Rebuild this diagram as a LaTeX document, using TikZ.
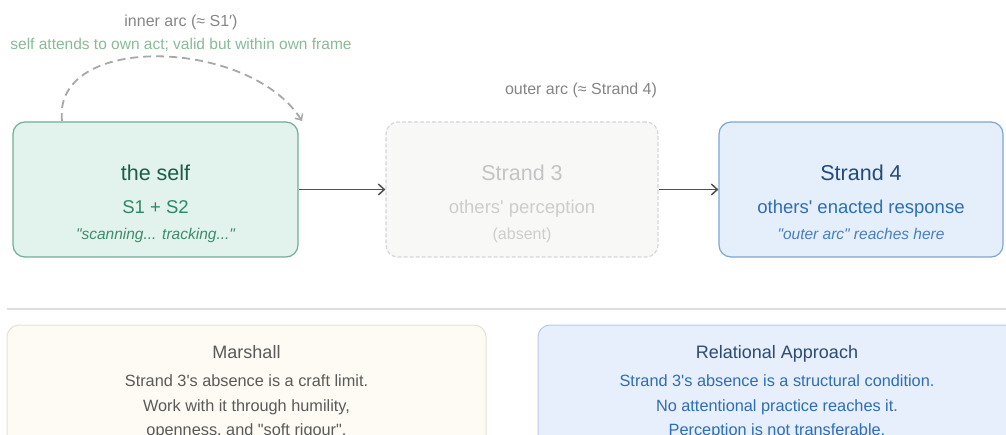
\documentclass[tikz,border=0pt]{standalone}
\usepackage{fontspec}
\setmainfont{Liberation Sans}
\usetikzlibrary{arrows.meta}
\definecolor{selffill}{HTML}{E1F3EC}
\definecolor{selfdraw}{HTML}{6FAE94}
\definecolor{selftitle}{HTML}{1F5C48}
\definecolor{selfsub}{HTML}{2E8766}
\definecolor{selfnote}{HTML}{3E8C6C}
\definecolor{absfill}{HTML}{F8F8F7}
\definecolor{absdraw}{HTML}{D6D6D6}
\definecolor{abstext}{HTML}{C4C4C4}
\definecolor{absnote}{HTML}{CDCDCD}
\definecolor{s4fill}{HTML}{E4EFFB}
\definecolor{s4draw}{HTML}{7CA6D4}
\definecolor{s4title}{HTML}{244B78}
\definecolor{s4sub}{HTML}{2F6DB5}
\definecolor{s4note}{HTML}{4A7DBE}
\definecolor{arrowgray}{HTML}{505050}
\definecolor{arcgray}{HTML}{A8A8A8}
\definecolor{labelgray}{HTML}{858585}
\definecolor{labelgreen}{HTML}{88BB94}
\definecolor{rulegray}{HTML}{DEDEDE}
\definecolor{marfill}{HTML}{FDFBF3}
\definecolor{mardraw}{HTML}{E6E2D4}
\definecolor{martext}{HTML}{5A5A5A}
\definecolor{relfill}{HTML}{E6EFFB}
\definecolor{reldraw}{HTML}{B7CCE8}
\definecolor{reltitle}{HTML}{2D4B70}
\definecolor{reltext}{HTML}{2F6DB5}
\newcommand{\dq}{\textquotedbl}
\newcommand{\sq}{\textquotesingle}
\tikzset{
  fs/.style={font=\fontsize{#1}{#1}\selectfont},
  stagebox/.style={rounded corners=12pt, line width=1.2pt, inner sep=0pt},
  notebox/.style={rounded corners=12pt, line width=1pt, inner sep=0pt},
  flow/.style={draw=arrowgray, line width=1.8pt, -{Straight Barb[length=6pt,width=11pt,line width=1.5pt]}},
  txt/.style={inner sep=0pt, anchor=base},
}
\begin{document}
\begin{tikzpicture}[x=1pt,y=-1pt]
\useasboundingbox (0,0) rectangle (1006,434);
\clip (0,0) rectangle (1006,434);

% stage boxes
\node[stagebox, draw=selfdraw, fill=selffill, minimum width=285pt, minimum height=135pt] (self) at (155.5,189.5) {};
\node[stagebox, draw=absdraw, fill=absfill, dashed, dash pattern=on 4pt off 2pt, minimum width=272pt, minimum height=135pt] (s3) at (522,189.5) {};
\node[stagebox, draw=s4draw, fill=s4fill, minimum width=284pt, minimum height=135pt] (s4) at (861,189.5) {};

% box texts
\node[txt, fs=21.5, text=selftitle] (selfT) at (155.5,180) {the self};
\node[txt, fs=18.5, text=selfsub] (selfS) at (155.5,213) {S1 + S2};
\node[txt, fs=15.5, text=selfnote] (selfN) at (155.5,239) {\itshape \dq scanning... tracking...\dq};

\node[txt, fs=21.5, text=abstext] (s3T) at (522,180) {Strand 3};
\node[txt, fs=18.5, text=absnote] (s3S) at (522,213) {others\sq{} perception};
\node[txt, fs=16, text=absnote] (s3N) at (522,239) {(absent)};

\node[txt, fs=21.5, text=s4title] (s4T) at (861,180) {Strand 4};
\node[txt, fs=18.5, text=s4sub] (s4S) at (861,213) {others\sq{} enacted response};
\node[txt, fs=15.5, text=s4note] (s4N) at (861,239) {\itshape \dq outer arc\dq{} reaches here};

% connectors
\draw[flow] (self.east) -- (s3.west);
\draw[flow] (s3.east) -- (s4.west);

% inner arc
\coordinate (arcA) at (62,121);
\coordinate (arcB) at (302,121);
\draw[arcgray, line width=1.8pt, dash pattern=on 8pt off 5pt,
  -{Straight Barb[length=5pt,width=9pt,line width=1.5pt]}]
  (arcA) .. controls (52,32) and (250,38) .. (arcB);
\node[txt, fs=16, text=labelgray] (innerL) at (181,26) {inner arc (≈ S1′)};
\node[txt, fs=15.5, text=labelgreen] (innerN) at (181,49) {self attends to own act; valid but within own frame};

\node[txt, fs=16, text=labelgray] (outerL) at (581,94) {outer arc (≈ Strand 4)};

% separator
\draw[rulegray, line width=2pt] (7,309) -- (1006,309);

% lower notes
\draw[notebox, draw=mardraw, fill=marfill] (7,325) rectangle (486,470);
\draw[notebox, draw=reldraw, fill=relfill] (538,325) rectangle (1030,470);

\node[txt, fs=18, text=martext] (marT) at (246.5,358) {Marshall};
\node[txt, fs=16.3, text=martext] (mar1) at (246.5,386) {Strand 3\sq s absence is a craft limit.};
\node[txt, fs=16.3, text=martext] (mar2) at (246.5,411) {Work with it through humility,};
\node[txt, fs=16.3, text=martext] (mar3) at (246.5,435) {openness, and \dq soft rigour\dq.};

\node[txt, fs=18, text=reltitle] (relT) at (777,358) {Relational Approach};
\node[txt, fs=16.3, text=reltext] (rel1) at (777,386) {Strand 3\sq s absence is a structural condition.};
\node[txt, fs=16.3, text=reltext] (rel2) at (777,411) {No attentional practice reaches it.};
\node[txt, fs=16.3, text=reltext] (rel3) at (777,435) {Perception is not transferable.};
\end{tikzpicture}
\end{document}
